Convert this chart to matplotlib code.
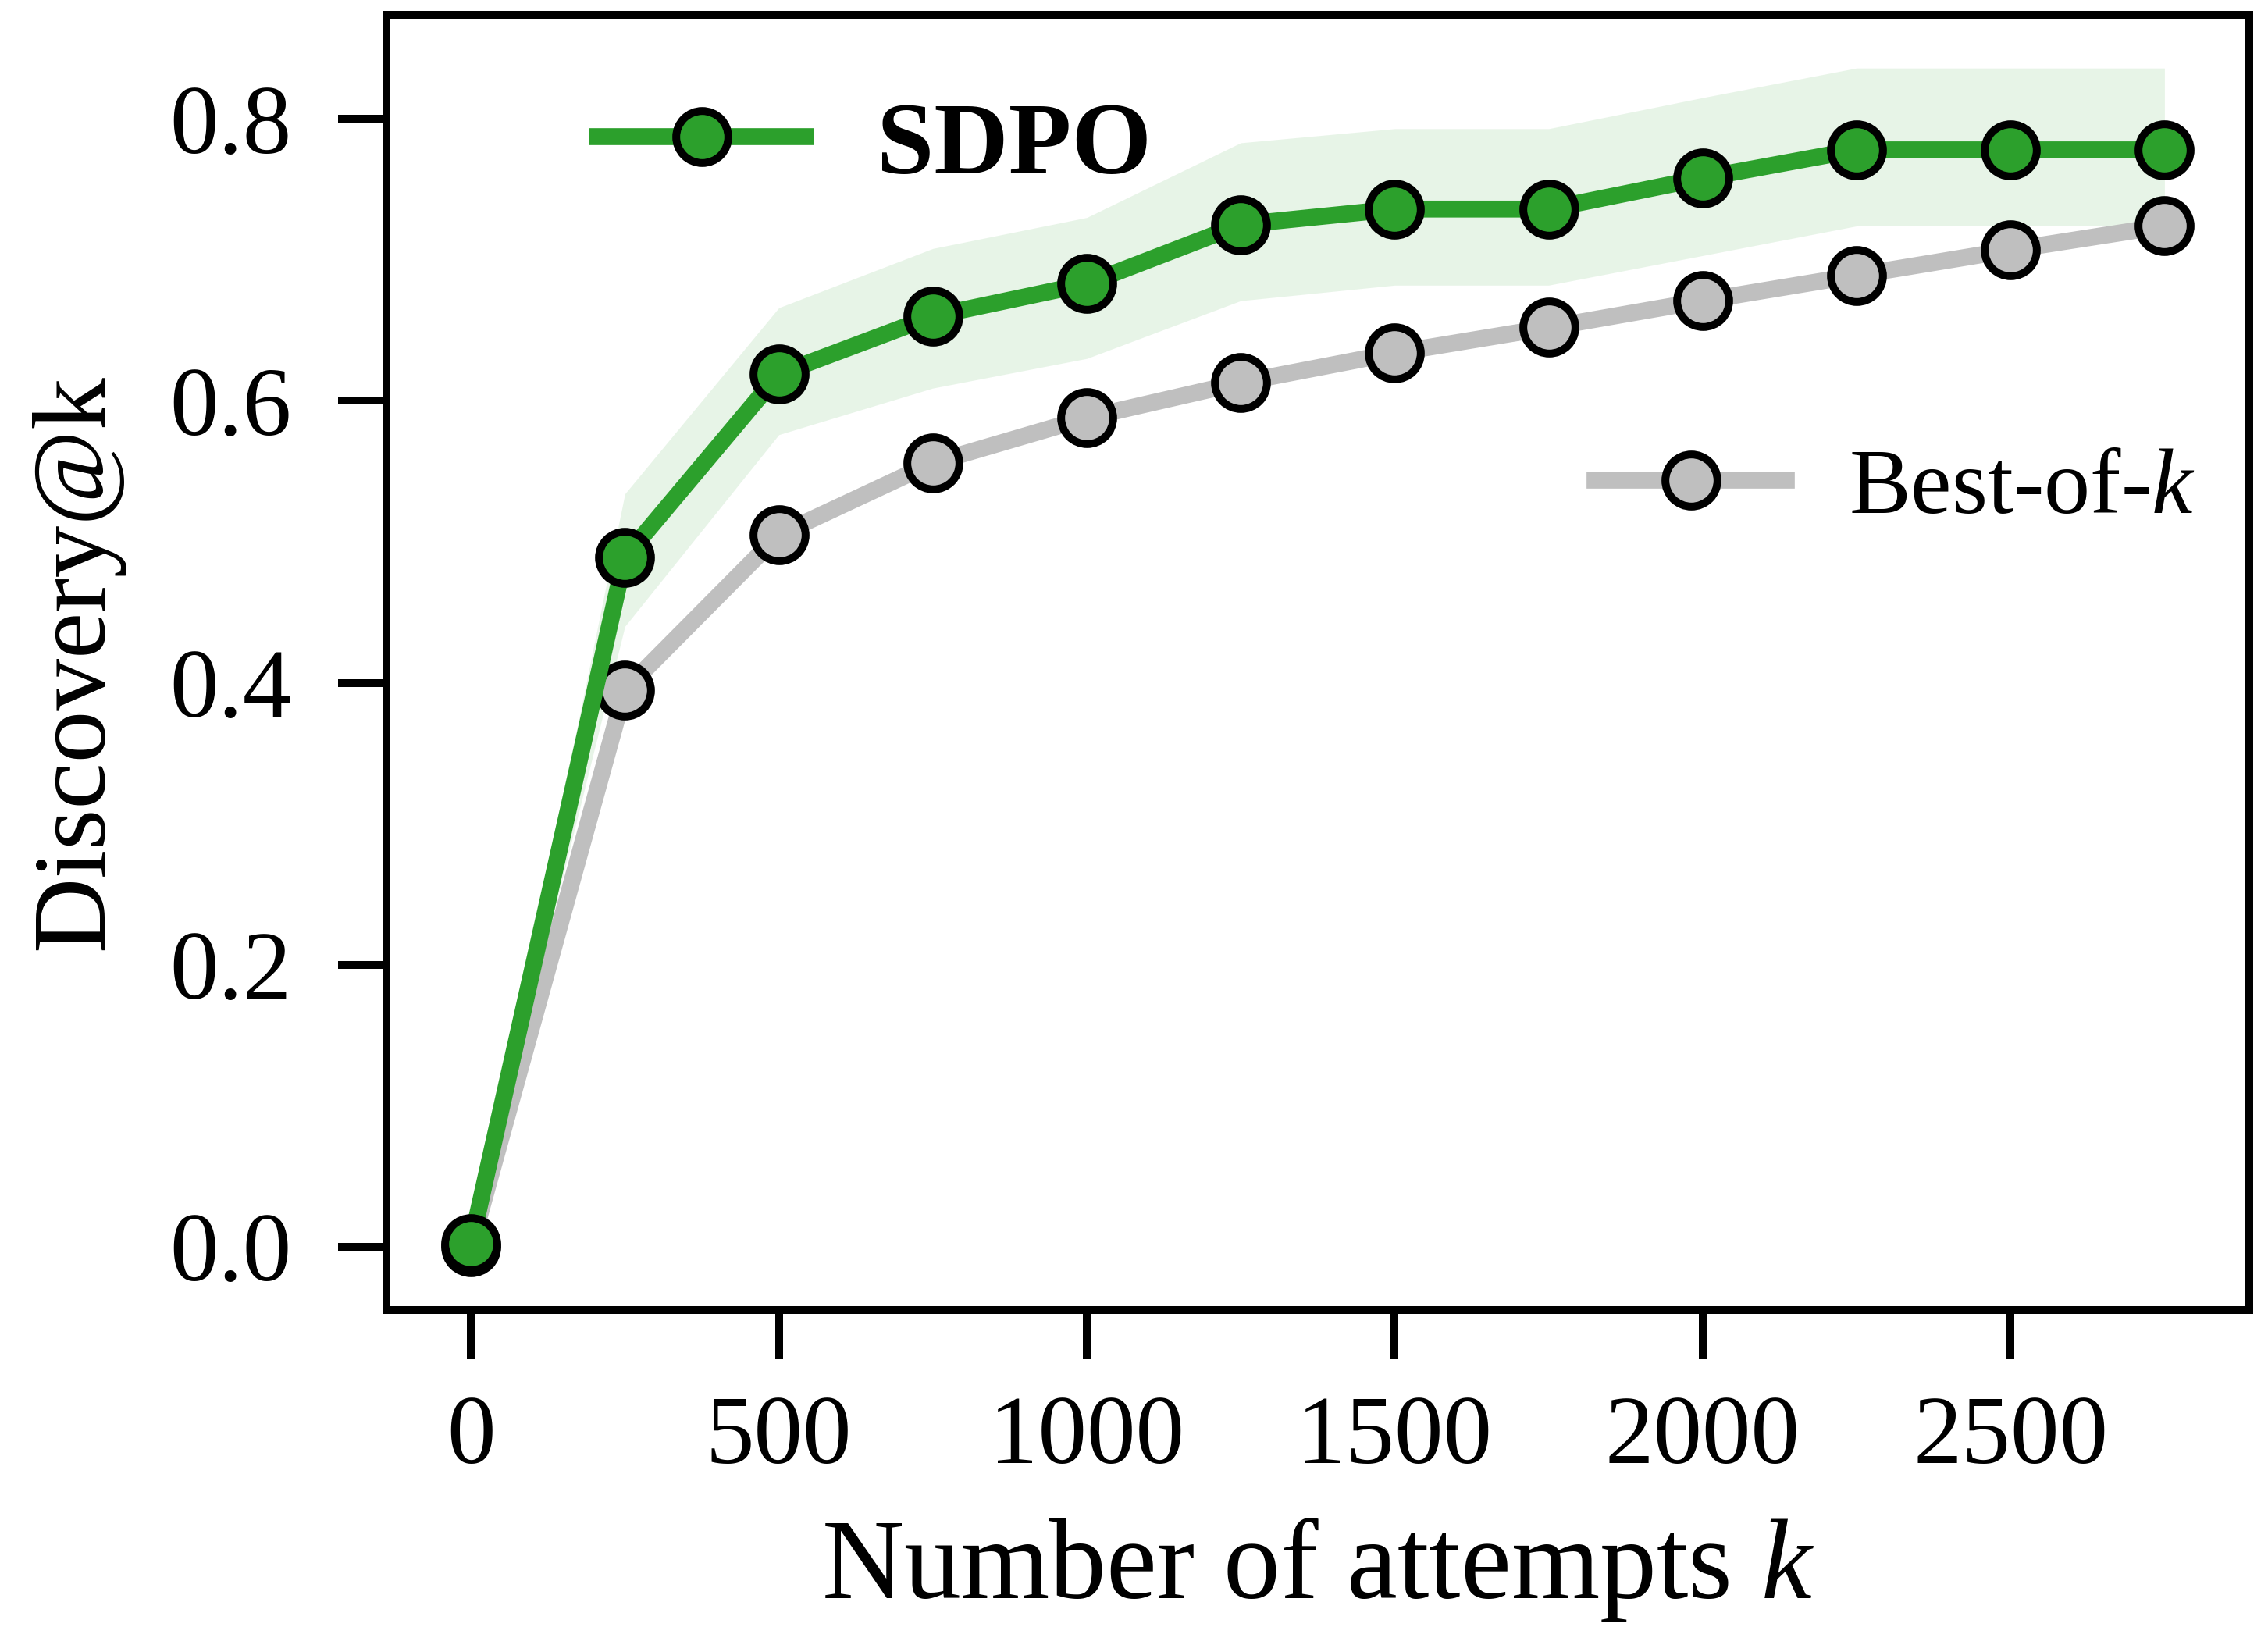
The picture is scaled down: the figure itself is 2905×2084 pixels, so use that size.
import numpy as np
import matplotlib
matplotlib.use("Agg")
import matplotlib.pyplot as plt

# data
k = [0, 250, 500, 750, 1000, 1250, 1500, 1750, 2000, 2250, 2500, 2750]
sdpo = [0.002, 0.489, 0.619, 0.660, 0.683, 0.725, 0.736, 0.736, 0.758, 0.778, 0.778, 0.778]
sdpo_lo = [0.0, 0.440, 0.576, 0.609, 0.630, 0.671, 0.682, 0.682, 0.703, 0.724, 0.724, 0.724]
sdpo_hi = [0.0, 0.534, 0.666, 0.708, 0.730, 0.783, 0.793, 0.793, 0.815, 0.836, 0.836, 0.836]
best = [0.0, 0.395, 0.505, 0.556, 0.588, 0.613, 0.634, 0.652, 0.671, 0.689, 0.707, 0.724]

yticks = [0.0, 0.2, 0.4, 0.6, 0.8]
xticks = [0, 500, 1000, 1500, 2000, 2500]

plt.rcParams["font.family"] = ["Liberation Serif", "DejaVu Serif"]
plt.rcParams["mathtext.fontset"] = "custom"
plt.rcParams["mathtext.rm"] = "Liberation Serif"
plt.rcParams["mathtext.it"] = "Liberation Serif:italic"

green = "#2ca02c"
gray = "#bfbfbf"

fig = plt.figure(figsize=(2905 / 300, 2084 / 300), dpi=300)
ax = fig.add_axes([0.1703, 0.1947, 0.8214, 0.7964])

ax.fill_between(k, sdpo_lo, sdpo_hi, color=green, alpha=0.11, linewidth=0)
l_best, = ax.plot(k, best, color=gray, lw=5.2, marker="o", ms=16, mfc=gray,
                  mec="black", mew=2.4, zorder=3)
l_sdpo, = ax.plot(k, sdpo, color=green, lw=5.2, marker="o", ms=16, mfc=green,
                  mec="black", mew=2.4, zorder=4)

ax.set_xlim(-137.5, 2887.5)
ax.set_ylim(-0.045, 0.874)
ax.set_xticks(xticks)
ax.set_yticks(yticks)
ax.set_yticklabels([f"{v:.1f}" for v in yticks])

for s in ax.spines.values():
    s.set_linewidth(2.4)
ax.tick_params(axis="both", length=15, width=2.4, labelsize=30)
ax.tick_params(axis="y", pad=14)
ax.tick_params(axis="x", pad=11)

ax.set_xlabel("Number of attempts $k$", fontsize=35, labelpad=10)
ax.set_ylabel("Discovery@k", fontsize=32, labelpad=14)

leg1 = ax.legend([l_sdpo], ["SDPO"], loc="center left", bbox_to_anchor=(0.1134, 0.897),
                 frameon=False, borderpad=0, borderaxespad=0, handlelength=2.02,
                 handletextpad=0.69, prop={"size": 31.7, "weight": "bold"})
ax.add_artist(leg1)
ax.legend([l_best], ["Best-of-$k$"], loc="center left", bbox_to_anchor=(0.649, 0.633),
          frameon=False, borderpad=0, borderaxespad=0, handlelength=2.07,
          handletextpad=0.67, prop={"size": 28.4})

fig.savefig("out.png", dpi=300)
